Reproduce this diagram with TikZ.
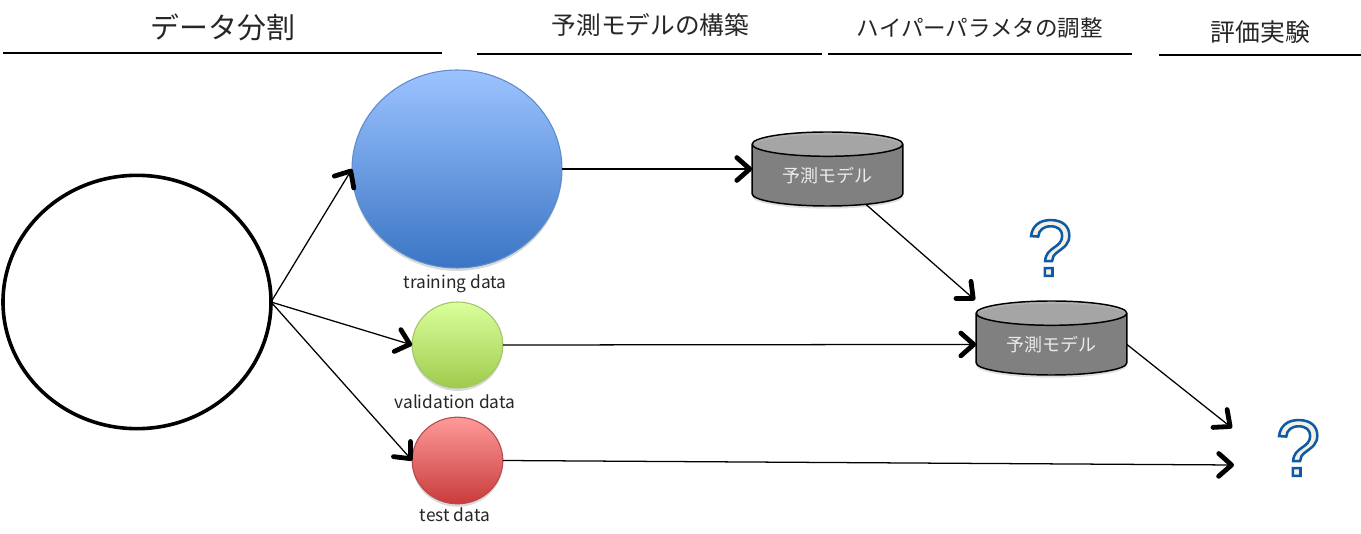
\documentclass[tikz,border=0pt]{standalone}
\usepackage{fontspec}
\setmainfont{Noto Sans CJK JP}
\usetikzlibrary{arrows.meta,positioning,calc,shapes.geometric,shadows}
\definecolor{bluetop}{HTML}{9CC3FF}
\definecolor{bluebot}{HTML}{3A75C4}
\definecolor{blueline}{HTML}{5C8CCB}
\definecolor{greentop}{HTML}{DAFF9C}
\definecolor{greenbot}{HTML}{9FCB4E}
\definecolor{greenline}{HTML}{A3C566}
\definecolor{redtop}{HTML}{FF9A9A}
\definecolor{redbot}{HTML}{C93B3B}
\definecolor{redline}{HTML}{B54A4A}
\tikzset{
  px/.style={x=0.75pt,y=-0.75pt},
  heading/.style={inner sep=0pt,text=black!85},
  headrule/.style={line width=0.9pt,black},
  datacircle/.style={ellipse,inner sep=0pt,outer sep=0pt,line width=0.8pt,
    drop shadow={opacity=.3,shadow xshift=0pt,shadow yshift=-2.2pt}},
  caption/.style={inner sep=0pt,font=\fontsize{13}{15}\selectfont,text=black!85},
  flow/.style={-{Straight Barb[length=3.4mm,width=6mm,line width=3.6pt,round]},line width=0.95pt,black},
  modeldb/.style={cylinder,shape border rotate=90,aspect=0.27,minimum width=113pt,minimum height=55.5pt,
    anchor=shape center,inner sep=0pt,outer sep=0pt,draw=black,line width=1.1pt,cylinder uses custom fill,
    cylinder body fill=black!50,cylinder end fill=black!30,text=white!92!black,
    font=\fontsize{13.5}{16}\selectfont,
    drop shadow={opacity=.25,shadow xshift=0pt,shadow yshift=-2pt}},
  quest/.style={inner sep=0pt,font=\fontspec{Liberation Sans}\fontsize{60}{60}\selectfont}
}
\newcommand{\outlinemark}{\special{pdf:code q 2 Tr 1.9 w 0.059 0.353 0.651 RG 0.953 0.945 0.894 rg}?\special{pdf:code Q}}

\begin{document}
\begin{tikzpicture}[px]
  \useasboundingbox (0,0) rectangle (1361,534);

  % headings
  \node[heading,font=\fontsize{21.7}{24}\selectfont] (h1) at (223,27) {データ分割};
  \node[heading,font=\fontsize{18.5}{22}\selectfont] (h2) at (650.5,25) {予測モデルの構築};
  \node[heading,font=\fontsize{16.9}{20}\selectfont] (h3) at (980,28) {ハイパーパラメタの調整};
  \node[heading,font=\fontsize{18.6}{22}\selectfont] (h4) at (1260.5,32) {評価実験};
  \coordinate (r1a) at (3,53);     \coordinate (r1b) at (442,53);
  \coordinate (r2a) at (477,54);   \coordinate (r2b) at (822,54);
  \coordinate (r3a) at (828,54);   \coordinate (r3b) at (1132,54);
  \coordinate (r4a) at (1159,55);  \coordinate (r4b) at (1361,55);
  \draw[headrule] (r1a) -- (r1b);
  \draw[headrule] (r2a) -- (r2b);
  \draw[headrule] (r3a) -- (r3b);
  \draw[headrule] (r4a) -- (r4b);

  % data
  \node[ellipse,draw=black,line width=2.7pt,fill=white,inner sep=0pt,outer sep=0pt,
    minimum width=201pt,minimum height=190pt] (whole) at (137,302) {};
  \node[datacircle,draw=blueline,top color=bluetop,bottom color=bluebot,
    minimum width=157.5pt,minimum height=148.5pt] (train) at (457,169) {};
  \node[datacircle,draw=greenline,top color=greentop,bottom color=greenbot,
    minimum width=68pt,minimum height=64.5pt] (valid) at (457.5,345) {};
  \node[datacircle,draw=redline,top color=redtop,bottom color=redbot,
    minimum width=68pt,minimum height=65pt] (testc) at (457.5,460.5) {};
  \node[caption] (trainl) at (455,284) {training data};
  \node[caption] (validl) at (455,402) {validation data};
  \node[caption] (testl) at (455,515) {test data};

  % models
  \node[modeldb] (m1) at (827.5,169) {予測モデル};
  \node[modeldb] (m2) at (1051.5,338) {予測モデル};
  \node[quest] (q1) at (1050,248) {\outlinemark};
  \node[quest] (q2) at (1298,448) {\outlinemark};
  \coordinate (m2in) at (975,300);
  \coordinate (endv) at (1232,428);
  \coordinate (endt) at (1234,465);

  % connectors
  \draw[flow] (whole.east) -- (train.west);
  \draw[flow] (whole.east) -- (valid.west);
  \draw[flow] (whole.east) -- (testc.west);
  \draw[flow] (train.east) -- (m1.west |- train.east);
  \draw[flow] (valid.east) -- (m2.west);
  \draw[flow] (testc.east) -- (endt);
  \draw[flow] (m1.-37) -- (m2in);
  \draw[flow] (m2.east) -- (endv);
\end{tikzpicture}
\end{document}
